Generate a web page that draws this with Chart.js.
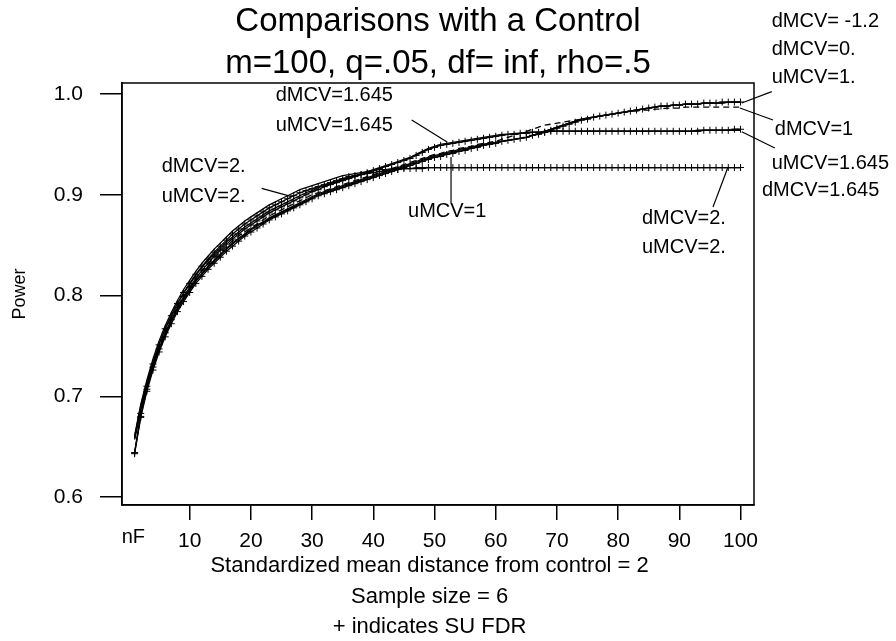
<!DOCTYPE html>
<html>
<head>
<meta charset="utf-8">
<script src="https://cdn.jsdelivr.net/npm/chart.js@4.4.1/dist/chart.umd.min.js"></script>
<style>
  html, body { margin: 0; padding: 0; background: #fff; }
  canvas { display: block; }
</style>
</head>
<body>
<canvas id="c" width="896" height="641"></canvas>
<script>
// ---------- data ----------
const nF = Array.from({length: 100}, (_, i) => i + 1);   // x positions 1..100
const xTicks = [10, 20, 30, 40, 50, 60, 70, 80, 90, 100];
const yTicks = [0.6, 0.7, 0.8, 0.9, 1.0];

const dMCV_m12 = [.657,.686,.709,.729,.746,.761,.774,.786,.796,.805,
  .814,.821,.828,.834,.840,.846,.851,.856,.860,.865,
  .869,.872,.876,.879,.882,.885,.888,.891,.894,.897,
  .900,.902,.904,.906,.908,.910,.912,.914,.916,.918,
  .920,.922,.924,.926,.928,.930,.932,.934,.936,.938,
  .939,.941,.942,.944,.945,.947,.948,.950,.951,.952,
  .953,.954,.955,.956,.957,.959,.961,.963,.965,.967,
  .969,.971,.973,.975,.976,.977,.978,.979,.980,.981,
  .982,.983,.984,.985,.986,.987,.988,.988,.989,.989,
  .990,.990,.990,.991,.991,.991,.991,.992,.992,.992];
const dMCV_0 = [.658,.687,.710,.730,.747,.762,.775,.787,.797,.806,
  .815,.822,.829,.835,.841,.847,.852,.857,.861,.866,
  .870,.873,.877,.880,.883,.886,.889,.892,.895,.898,
  .901,.903,.905,.907,.909,.911,.913,.915,.917,.919,
  .921,.923,.925,.927,.929,.931,.933,.935,.937,.939,
  .940,.942,.943,.945,.946,.947,.949,.950,.951,.952,
  .953,.954,.955,.956,.957,.959,.961,.963,.965,.967,
  .969,.971,.973,.975,.976,.977,.978,.979,.980,.981,
  .982,.983,.984,.985,.986,.987,.988,.988,.989,.989,
  .990,.990,.990,.991,.991,.991,.991,.992,.992,.992];
const uMCV_1 = [.643,.679,.705,.726,.744,.759,.772,.784,.794,.803,
  .812,.819,.826,.832,.838,.844,.849,.854,.859,.863,
  .867,.871,.875,.878,.881,.884,.887,.890,.893,.896,
  .899,.901,.903,.905,.907,.909,.911,.913,.915,.917,
  .919,.921,.923,.925,.927,.929,.931,.933,.935,.937,
  .938,.940,.941,.943,.944,.946,.947,.949,.950,.951,
  .953,.954,.955,.956,.957,.959,.960,.962,.964,.966,
  .968,.970,.972,.974,.975,.977,.978,.979,.980,.981,
  .982,.983,.984,.985,.986,.987,.988,.988,.989,.989,
  .990,.990,.990,.991,.991,.991,.992,.992,.992,.992];
const dMCV_1 = [.659,.688,.712,.732,.749,.764,.777,.789,.799,.808,
  .817,.824,.831,.837,.843,.849,.854,.859,.863,.867,
  .871,.875,.879,.882,.885,.888,.891,.894,.897,.900,
  .902,.904,.906,.908,.910,.912,.914,.916,.918,.920,
  .922,.924,.926,.928,.930,.932,.934,.936,.938,.940,
  .941,.943,.944,.946,.947,.948,.950,.951,.952,.953,
  .955,.957,.959,.961,.963,.965,.967,.969,.970,.971,
  .972,.973,.974,.975,.976,.977,.978,.979,.980,.981,
  .982,.983,.983,.984,.984,.985,.985,.986,.986,.986,
  .987,.987,.987,.987,.987,.987,.987,.987,.987,.987];
const dMCV_1645 = [.660,.690,.714,.734,.752,.767,.780,.792,.802,.811,
  .820,.828,.835,.841,.847,.853,.858,.863,.868,.872,
  .876,.880,.884,.887,.890,.893,.896,.899,.902,.904,
  .907,.909,.911,.913,.915,.917,.919,.921,.923,.925,
  .927,.929,.931,.933,.935,.937,.940,.943,.946,.948,
  .950,.951,.952,.953,.954,.955,.956,.957,.958,.959,
  .960,.960,.961,.961,.962,.962,.962,.963,.963,.963,
  .963,.963,.963,.963,.963,.963,.963,.963,.963,.963,
  .963,.963,.963,.963,.963,.963,.963,.963,.963,.963,
  .963,.963,.964,.964,.964,.964,.964,.964,.964,.964];
const uMCV_1645 = [.644,.680,.707,.729,.747,.763,.776,.788,.799,.808,
  .817,.825,.832,.839,.845,.851,.856,.861,.866,.870,
  .874,.878,.882,.885,.888,.891,.894,.897,.900,.903,
  .905,.908,.910,.912,.914,.916,.918,.920,.922,.924,
  .926,.928,.930,.932,.934,.936,.939,.942,.945,.947,
  .949,.950,.951,.952,.953,.954,.955,.956,.957,.958,
  .959,.960,.960,.961,.961,.962,.962,.962,.963,.963,
  .963,.963,.963,.963,.963,.963,.963,.963,.963,.963,
  .963,.963,.963,.963,.963,.963,.963,.963,.963,.963,
  .963,.963,.963,.964,.964,.964,.964,.964,.965,.965];
const dMCV_2 = [.661,.692,.716,.737,.755,.770,.783,.795,.806,.815,
  .824,.832,.839,.846,.852,.858,.864,.869,.874,.878,
  .882,.886,.890,.893,.896,.899,.902,.905,.907,.909,
  .911,.913,.915,.917,.919,.920,.921,.922,.923,.924,
  .925,.925,.926,.926,.926,.926,.927,.927,.927,.927,
  .927,.927,.927,.927,.927,.927,.927,.927,.927,.927,
  .927,.927,.927,.927,.927,.927,.927,.927,.927,.927,
  .927,.927,.927,.927,.927,.927,.927,.927,.927,.927,
  .927,.927,.927,.927,.927,.927,.927,.927,.927,.927,
  .927,.927,.927,.927,.927,.927,.927,.927,.927,.927];
const uMCV_2 = [.644,.683,.710,.732,.751,.767,.780,.792,.803,.812,
  .821,.829,.836,.843,.849,.855,.861,.866,.871,.875,
  .879,.883,.887,.890,.893,.896,.899,.902,.904,.906,
  .908,.910,.912,.914,.916,.918,.919,.920,.921,.922,
  .923,.924,.925,.925,.926,.926,.926,.926,.927,.927,
  .927,.927,.927,.927,.927,.927,.927,.927,.927,.927,
  .927,.927,.927,.927,.927,.927,.927,.927,.927,.927,
  .927,.927,.927,.927,.927,.927,.927,.927,.927,.927,
  .927,.927,.927,.927,.927,.927,.927,.927,.927,.927,
  .927,.927,.927,.927,.927,.927,.927,.927,.927,.927];

// ---------- text ----------
const titleLines = ['Comparisons with a Control', 'm=100, q=.05, df= inf, rho=.5'];
const xTitleLines = ['Standardized mean distance from control = 2', 'Sample size = 6', '+ indicates SU FDR'];
const yTitle = 'Power';

// curve labels, placed in data units
const curveLabels = [
  {t: 'dMCV= -1.2', x: 105.1, y: 1.0715},
  {t: 'dMCV=0.',    x: 105.1, y: 1.0437},
  {t: 'uMCV=1.',    x: 105.1, y: 1.0159},
  {t: 'dMCV=1',     x: 105.6, y: 0.9643},
  {t: 'uMCV=1.645', x: 105.1, y: 0.9315},
  {t: 'dMCV=1.645', x: 103.5, y: 0.9047},
  {t: 'dMCV=2.',    x: 83.9,  y: 0.8769},
  {t: 'uMCV=2.',    x: 83.9,  y: 0.8481},
  {t: 'dMCV=2.',    x: 5.42,  y: 0.9278},
  {t: 'uMCV=2.',    x: 5.42,  y: 0.8981},
  {t: 'dMCV=1.645', x: 24.05, y: 0.9990},
  {t: 'uMCV=1.645', x: 24.05, y: 0.9692},
  {t: 'uMCV=1',     x: 45.67, y: 0.8832}
];
const pointers = [
  [105.1, 1.0023, 100.2, 0.9911],
  [105.3, 0.9742, 99.9, 0.9861],
  [105.6, 0.9464, 100.2, 0.9626],
  [95.5, 0.8878, 97.9, 0.9266],
  [21.76, 0.9064, 26.67, 0.8981],
  [46.27, 0.9742, 51.99, 0.9527],
  [52.7, 0.9375, 52.7, 0.8918]
];

const FONT = "'Liberation Sans', Arial, Helvetica, sans-serif";

const plus = (label, data) => ({
  label, data: data.map((v, i) => ({x: nF[i], y: v})),
  borderColor: '#000', borderWidth: 1.3, backgroundColor: '#000',
  pointStyle: 'cross', pointRadius: 3.5, pointBorderWidth: 1, pointBorderColor: '#000',
  tension: 0, fill: false
});
const plain = (label, data, dash) => ({
  label, data: data.map((v, i) => ({x: nF[i], y: v})),
  borderColor: '#000', borderWidth: 1.3, borderDash: dash || [],
  pointRadius: 0, tension: 0, fill: false
});

const deco = {
  id: 'deco',
  afterDraw(chart) {
    const {ctx, chartArea: a, scales: {x, y}} = chart;
    ctx.save();
    // frame
    ctx.strokeStyle = '#000';
    ctx.lineWidth = 1.5;
    ctx.strokeRect(a.left, a.top, a.right - a.left, a.bottom - a.top);
    ctx.fillStyle = '#000';
    ctx.textAlign = 'center';
    ctx.textBaseline = 'middle';
    // titles
    ctx.font = '33px ' + FONT;
    const cx = (a.left + a.right) / 2;
    ctx.fillText(titleLines[0], cx, 22);
    ctx.fillText(titleLines[1], cx, 64);
    // x-axis title lines (centred slightly left of the plot centre, as in the original)
    ctx.font = '22px ' + FONT;
    const xc = x.getPixelForValue(49.2);
    ctx.fillText(xTitleLines[0], xc, 566);
    ctx.fillText(xTitleLines[1], xc, 597);
    ctx.fillText(xTitleLines[2], xc, 627);
    // nF
    ctx.font = '20px ' + FONT;
    ctx.fillText('nF', x.getPixelForValue(0.8), 537);
    // curve labels
    ctx.textAlign = 'left';
    for (const l of curveLabels) {
      ctx.fillText(l.t, x.getPixelForValue(l.x), y.getPixelForValue(l.y));
    }
    // pointers
    ctx.lineWidth = 1.2;
    for (const p of pointers) {
      ctx.beginPath();
      ctx.moveTo(x.getPixelForValue(p[0]), y.getPixelForValue(p[1]));
      ctx.lineTo(x.getPixelForValue(p[2]), y.getPixelForValue(p[3]));
      ctx.stroke();
    }
    ctx.restore();
  }
};

new Chart(document.getElementById('c'), {
  type: 'line',
  data: {
    datasets: [
      plain('dMCV= -1.2', dMCV_m12),
      plain('dMCV=0.', dMCV_0),
      plus('uMCV=1.', uMCV_1),
      plain('dMCV=1', dMCV_1, [6, 4]),
      plus('uMCV=1.645', uMCV_1645),
      plain('dMCV=1.645', dMCV_1645),
      plain('dMCV=2.', dMCV_2),
      plus('uMCV=2.', uMCV_2)
    ]
  },
  options: {
    responsive: false,
    animation: false,
    devicePixelRatio: 1,
    layout: {padding: {left: 0, top: 83, right: 142, bottom: 0}},
    plugins: {legend: {display: false}, tooltip: {enabled: false}, title: {display: false}},
    scales: {
      x: {
        type: 'linear', min: -1.06, max: 102.2,
        afterBuildTicks: s => { s.ticks = xTicks.map(v => ({value: v})); },
        afterFit: s => { s.height = 136; },
        ticks: {color: '#000', font: {family: FONT, size: 21}, padding: 9, maxRotation: 0, autoSkip: false},
        grid: {drawOnChartArea: false, tickLength: 15, color: '#000', lineWidth: 1.5},
        border: {display: true, color: '#000', width: 1.5},
        title: {display: false}
      },
      y: {
        type: 'linear', min: 0.5921, max: 1.0109,
        afterBuildTicks: s => { s.ticks = yTicks.map(v => ({value: v})); },
        afterFit: s => { s.width = 122; },
        ticks: {color: '#000', font: {family: FONT, size: 21}, padding: 17, callback: v => v.toFixed(1)},
        grid: {drawOnChartArea: false, tickLength: 22, color: '#000', lineWidth: 1.5},
        border: {display: true, color: '#000', width: 1.5},
        title: {display: true, text: yTitle, color: '#000',
                font: {family: FONT, size: 18, lineHeight: 1.2}, padding: {top: 9, bottom: 0}}
      }
    }
  },
  plugins: [deco]
});
</script>
</body>
</html>
